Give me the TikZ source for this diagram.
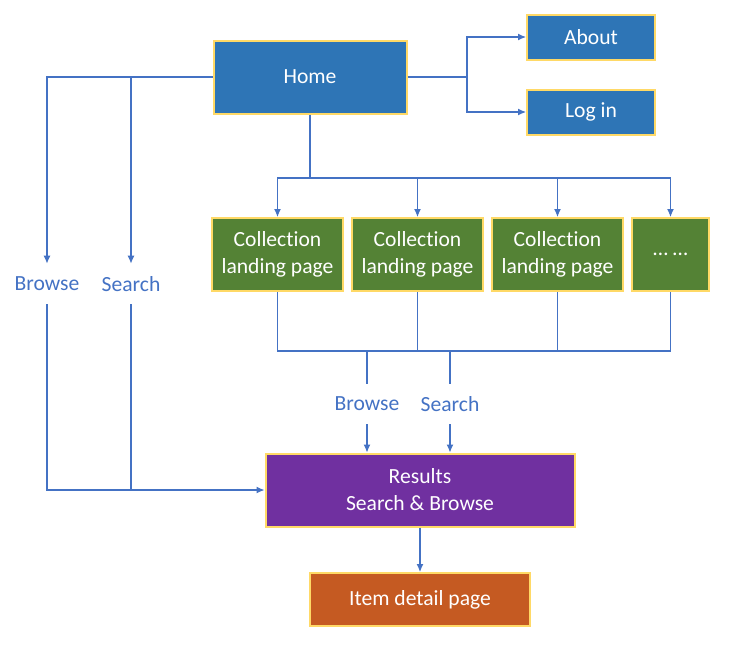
\documentclass[tikz,border=0pt]{standalone}
\usepackage{fontspec}
\setmainfont{Carlito}[Ligatures=NoCommon]
\usetikzlibrary{arrows.meta,positioning}
\definecolor{homeblue}{HTML}{2E75B6}
\definecolor{collgreen}{HTML}{548235}
\definecolor{respurple}{HTML}{7030A0}
\definecolor{itemorange}{HTML}{C55A22}
\definecolor{pageedge}{HTML}{FFD966}
\definecolor{linkblue}{HTML}{4472C4}

\begin{document}
\begin{tikzpicture}[x=0.5pt, y=-0.5pt, font=\fontsize{10.8}{13.5}\selectfont,
  page/.style={rectangle, draw=pageedge, line width=1pt, text=white, align=center, inner sep=0pt, minimum height=36.5pt},
  link/.style={draw=linkblue, line width=0.55pt},
  go/.style={link, -{Latex[length=4pt, width=3.5pt]}},
  lbl/.style={text=linkblue, inner sep=0pt, minimum height=20pt}]
  \useasboundingbox (0,0) rectangle (735,644);

  \node[page, fill=homeblue, minimum width=96.5pt] (home) at (310,77) {Home};
  \node[page, fill=homeblue, minimum width=64pt, minimum height=22.5pt] (about) at (591,37) {About};
  \node[page, fill=homeblue, minimum width=64pt, minimum height=22.5pt] (login) at (591,112) {Log in};

  \node[page, fill=collgreen, minimum width=65.5pt] (coll1) at (277.5,254.5) {Collection\\landing page};
  \node[page, fill=collgreen, minimum width=65.5pt] (coll2) at (417.5,254.5) {Collection\\landing page};
  \node[page, fill=collgreen, minimum width=65.5pt] (coll3) at (557.5,254.5) {Collection\\landing page};
  \node[page, fill=collgreen, minimum width=38.5pt] (more) at (670.5,254.5) {\dots\ \dots};

  \node[page, fill=respurple, minimum width=154.5pt] (results) at (420,490) {Results\\Search \& Browse};
  \node[page, fill=itemorange, minimum width=110pt, minimum height=26.5pt] (item) at (420,599.5) {Item detail page};

  \node[lbl] (browseL) at (47,284) {Browse};
  \node[lbl] (searchL) at (131,284) {Search};
  \node[lbl] (browseM) at (367,404) {Browse};
  \node[lbl] (searchM) at (450,404) {Search};

  % home to about / log in
  \coordinate (fork) at (467,77);
  \draw[link] (home.east) -- (fork);
  \draw[go] (fork) |- (about.west);
  \draw[go] (fork) |- (login.west);

  % home to the left, browse and search
  \draw[go] (home.west) -| (browseL.north);
  \draw[go] (searchL.north |- home.west) -- (searchL.north);
  \draw[go] (browseL.south) |- (results.west);
  \draw[link] (searchL.south) -- (searchL.south |- results.west);

  % home to collections
  \coordinate (split) at (310,178);
  \draw[link] (home.south) -- (split);
  \foreach \c in {coll1,coll2,coll3,more}
    \draw[go] (split) -| (\c.north);

  % collections to results
  \coordinate (bus) at (0,351);
  \draw[link] (coll1.south) |- (more.south |- bus) -- (more.south);
  \draw[link] (coll2.south) -- (coll2.south |- bus);
  \draw[link] (coll3.south) -- (coll3.south |- bus);
  \draw[link] (browseM.north |- bus) -- (browseM.north);
  \draw[link] (searchM.north |- bus) -- (searchM.north);
  \draw[go] (browseM.south) -- (browseM.south |- results.north);
  \draw[go] (searchM.south) -- (searchM.south |- results.north);

  \draw[go] (results.south) -- (item.north);
\end{tikzpicture}
\end{document}
